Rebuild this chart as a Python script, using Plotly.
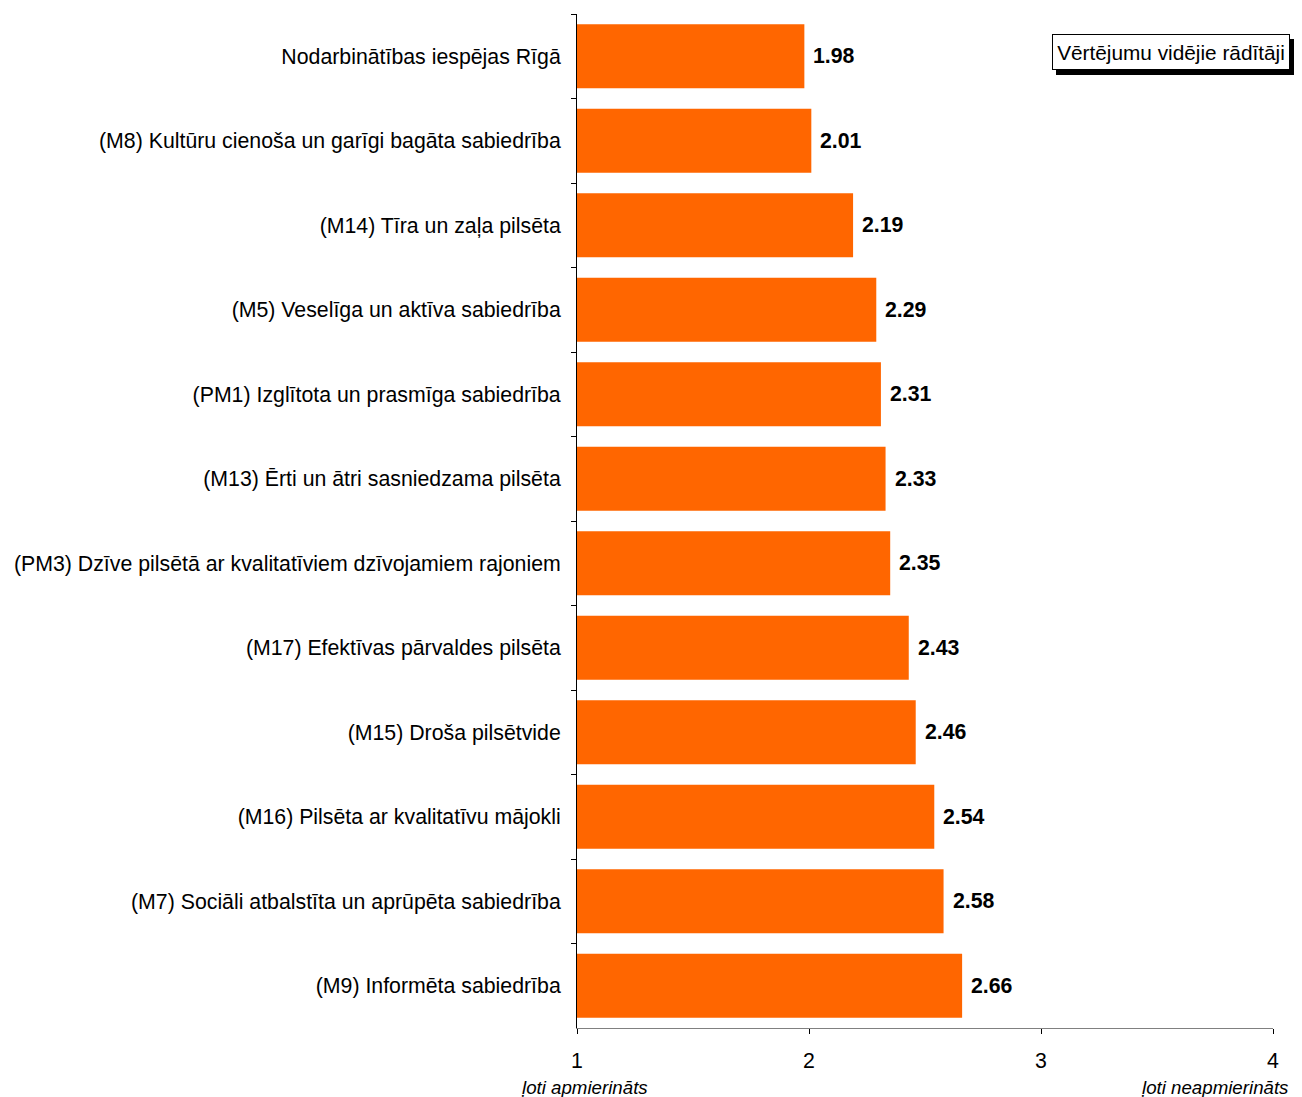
import plotly.graph_objects as go

categories = [
    "Nodarbinātības iespējas Rīgā",
    "(M8) Kultūru cienoša un garīgi bagāta sabiedrība",
    "(M14) Tīra un zaļa pilsēta",
    "(M5) Veselīga un aktīva sabiedrība",
    "(PM1) Izglītota un prasmīga sabiedrība",
    "(M13) Ērti un ātri sasniedzama pilsēta",
    "(PM3) Dzīve pilsētā ar kvalitatīviem dzīvojamiem rajoniem",
    "(M17) Efektīvas pārvaldes pilsēta",
    "(M15) Droša pilsētvide",
    "(M16) Pilsēta ar kvalitatīvu mājokli",
    "(M7) Sociāli atbalstīta un aprūpēta sabiedrība",
    "(M9) Informēta sabiedrība",
]
values = [1.98, 2.01, 2.19, 2.29, 2.31, 2.33, 2.35, 2.43, 2.46, 2.54, 2.58, 2.66]
x_ticks = [1, 2, 3, 4]
legend_label = "Vērtējumu vidējie rādītāji"
low_label = "ļoti apmierināts"
high_label = "ļoti neapmierināts"

FONT = "Liberation Sans, Arial, sans-serif"
FS = 21.3

fig = go.Figure()
fig.add_trace(go.Bar(
    y=categories,
    x=[v - 1 for v in values],
    base=1,
    orientation="h",
    marker=dict(color="#FF6600", line=dict(width=0)),
    width=0.76,
    showlegend=False,
    hoverinfo="skip",
))

# value labels
for c, v in zip(categories, values):
    fig.add_annotation(
        x=v, y=c, xref="x", yref="y", text=f"<b>{v:.2f}</b>",
        showarrow=False, xanchor="left", yanchor="middle", xshift=7,
        font=dict(family=FONT, size=FS, color="black"),
    )

# page has 8px body margin: shrink figure so plot lands at reference pixels
fig.update_layout(
    width=1294, height=1089,
    margin=dict(l=569, r=29, t=6, b=69, pad=0),
    plot_bgcolor="white", paper_bgcolor="white",
    font=dict(family=FONT, size=FS, color="black"),
    xaxis=dict(
        range=[1, 4], tickvals=x_ticks, ticktext=[str(t) for t in x_ticks],
        showgrid=False, zeroline=False, showline=True, linecolor="#808080", linewidth=1,
        ticks="outside", ticklen=5, tickcolor="black", tickfont=dict(size=FS),
        ticklabelstandoff=8,
    ),
    yaxis=dict(
        categoryorder="array", categoryarray=categories,
        range=[len(categories) - 0.5, -0.5],
        showgrid=False, zeroline=False, showline=True, linecolor="black", linewidth=1,
        ticks="outside", ticklen=5, tickcolor="black", tickson="boundaries",
        tickfont=dict(size=FS), ticklabelstandoff=11,
    ),
    bargap=0.24,
)

# legend-like box with shadow
for i, bg in enumerate(["black", "white"]):
    fig.add_annotation(
        xref="paper", yref="paper", x=1.0244, y=0.9803,
        xanchor="right", yanchor="top",
        text=legend_label, showarrow=False,
        width=232, height=30, align="center", valign="middle",
        font=dict(size=20.8, color="black", family=FONT),
        bgcolor=bg, bordercolor="black", borderwidth=1, borderpad=2,
        xshift=4 if i == 0 else 0, yshift=-5 if i == 0 else 0,
    )

fig.add_annotation(xref="x", yref="paper", x=1, y=0, yshift=-59, text=low_label,
                   showarrow=False, font=dict(size=18.7, family=FONT, style="italic"),
                   xanchor="center", yanchor="middle", xshift=7)
fig.add_annotation(xref="x", yref="paper", x=4, y=0, yshift=-59, text=high_label,
                   showarrow=False, font=dict(size=18.7, family=FONT, style="italic"),
                   xanchor="right", yanchor="middle", xshift=17)

fig.write_html("out.html")
